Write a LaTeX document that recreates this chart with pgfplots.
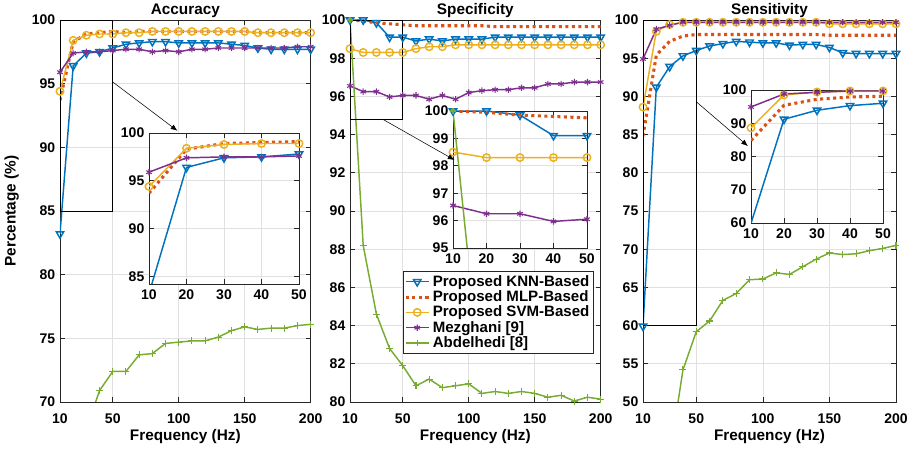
\documentclass[border=0pt]{standalone}
\usepackage{fontspec}
\setmainfont{Liberation Sans}
\usepackage{pgfplots}
\usepackage{pgfplotstable}
\pgfplotsset{compat=1.18}
\usetikzlibrary{arrows.meta}

\definecolor{mblue}{rgb}{0,0.447,0.741}
\definecolor{morange}{rgb}{0.85,0.325,0.098}
\definecolor{myellow}{rgb}{0.929,0.694,0.125}
\definecolor{mpurple}{rgb}{0.494,0.184,0.556}
\definecolor{mgreen}{rgb}{0.466,0.674,0.188}

% x knn mlp svm mez abd
\pgfplotstableread{
x   knn    mlp    svm    mez    abd
10  83.2   93.7   94.4   95.9   50.0
20  96.4   98.3   98.4   97.4   60.0
30  97.4   98.9   98.8   97.5   67.9
40  97.5   99.0   98.9   97.5   70.9
50  97.8   99.1   98.9   97.6   72.4
60  98.1   99.0   99.0   97.7   72.4
70  98.2   99.1   99.0   97.7   73.7
80  98.3   99.1   99.1   97.5   73.8
90  98.3   99.1   99.1   97.6   74.6
100 98.2   99.1   99.1   97.5   74.7
110 98.2   99.1   99.1   97.7   74.8
120 98.2   99.1   99.1   97.7   74.8
130 98.2   99.1   99.1   97.8   75.1
140 98.1   99.1   99.1   97.8   75.6
150 98.0   99.1   99.1   97.8   75.9
160 97.8   99.0   99.0   97.8   75.7
170 97.7   99.0   99.0   97.8   75.8
180 97.7   99.0   99.0   97.8   75.8
190 97.7   99.0   99.0   97.9   76.0
200 97.7   99.0   99.0   97.9   76.1
}\acc

\pgfplotstableread{
x   knn    mlp    svm    mez    abd
10  100.0  100.0  98.5   96.55  100.0
20  100.0  99.95  98.3   96.25  88.2
30  99.85  99.85  98.3   96.25  84.6
40  99.1   99.8   98.3   95.97  82.8
50  99.1   99.75  98.3   96.05  81.9
60  98.9   99.7   98.5   96.05  80.85
70  99.0   99.7   98.6   95.85  81.2
80  98.9   99.7   98.6   96.05  80.75
90  99.0   99.7   98.7   95.85  80.85
100 99.0   99.7   98.7   96.2   80.95
110 99.0   99.7   98.7   96.3   80.45
120 99.1   99.65  98.7   96.35  80.55
130 99.1   99.65  98.7   96.35  80.45
140 99.1   99.65  98.7   96.45  80.55
150 99.1   99.65  98.7   96.45  80.45
160 99.1   99.65  98.7   96.65  80.25
170 99.1   99.65  98.7   96.65  80.35
180 99.1   99.65  98.7   96.75  80.05
190 99.1   99.65  98.7   96.75  80.25
200 99.1   99.65  98.7   96.75  80.15
}\spe

\pgfplotstableread{
x   knn    mlp    svm    mez    abd
10  59.9   84.8   88.6   94.9   20.0
20  91.2   95.4   98.5   98.8   32.0
30  93.9   97.2   99.4   99.3   42.8
40  95.3   97.9   99.7   99.7   54.2
50  96.0   98.1   99.7   99.7   59.2
60  96.6   98.1   99.7   99.7   60.6
70  96.9   98.1   99.7   99.7   63.3
80  97.2   98.1   99.7   99.7   64.2
90  97.1   98.1   99.7   99.7   66.0
100 97.0   98.1   99.7   99.7   66.1
110 97.0   98.1   99.7   99.7   66.9
120 96.7   98.1   99.7   99.7   66.7
130 96.8   98.1   99.7   99.7   67.7
140 96.8   98.1   99.7   99.7   68.7
150 96.4   98.0   99.5   99.7   69.5
160 95.7   98.0   99.5   99.7   69.3
170 95.6   98.0   99.5   99.7   69.4
180 95.6   98.0   99.5   99.7   69.8
190 95.6   98.0   99.5   99.7   70.1
200 95.6   98.0   99.5   99.7   70.5
}\sen

\pgfplotsset{
  knn/.style={mblue, line width=1.1pt, mark=triangle, mark size=3.2pt, mark options={rotate=180, solid}},
  mlp/.style={morange, line width=2.3pt, dash pattern=on 2.3pt off 2.6pt},
  svm/.style={myellow, line width=1.1pt, mark=o, mark size=2.8pt, mark options={solid}},
  mez/.style={mpurple, line width=1.1pt, mark=asterisk, mark size=2.4pt, mark options={solid, line width=0.8pt}},
  abd/.style={mgreen, line width=1.1pt, mark=+, mark size=2.6pt, mark options={solid, line width=0.8pt}},
  base/.style={
    scale only axis, anchor=south west,
    grid=major, major grid style={black!12, line width=0.5pt},
    axis line style={black!85, line width=0.5pt},
    tick style={black!85, line width=0.5pt}, major tick length=3.5pt,
    tick label style={font=\bfseries\fontsize{10.5}{12}\selectfont},
    /pgf/number format/assume math mode=true,
    title style={font=\bfseries\fontsize{11.5}{13}\selectfont, anchor=base, yshift=-2pt},
    label style={font=\bfseries\fontsize{11.5}{13}\selectfont},
  },
  mainax/.style={base, xmin=10, xmax=200, xtick={10,50,100,150,200},
    width=188pt, height=286.5pt, xlabel={Frequency (Hz)},
    xticklabel style={yshift=-5pt},
    xlabel style={yshift=2pt}},
  inset/.style={base, xmin=10, xmax=50, xtick={10,20,30,40,50},
    xticklabel style={yshift=-1pt},
    axis background/.style={fill=white}, restrict x to domain=10:50},
}

\begin{document}
\begin{tikzpicture}
\path[use as bounding box] (0,0) rectangle (691.5pt,336.75pt);

% Accuracy
\begin{axis}[mainax, at={(45pt,35.25pt)}, ymin=70, ymax=100,
  ytick={70,75,...,100}, title={Accuracy}, ylabel={Percentage (\%)},
  ylabel style={yshift=3pt}]
\addplot[knn] table[x=x,y=knn] {\acc};
\addplot[mlp] table[x=x,y=mlp] {\acc};
\addplot[svm] table[x=x,y=svm] {\acc};
\addplot[mez] table[x=x,y=mez] {\acc};
\addplot[abd] table[x=x,y=abd] {\acc};
\draw[black, line width=0.6pt] (axis cs:10,85) rectangle (axis cs:50,100);
\coordinate (a1s) at (axis cs:50,95.13);
\coordinate (a1e) at (axis cs:99,91.3);
\end{axis}

% Specificity
\begin{axis}[mainax, at={(262.5pt,35.25pt)}, ymin=80, ymax=100,
  ytick={80,82,...,100}, title={Specificity},
  legend cell align=left,
  legend style={at={(0.21,0.343)}, anchor=north west, draw=black!85,
    line width=0.5pt, font=\bfseries\fontsize{11.3}{12}\selectfont,
    inner sep=1pt, row sep=-2.2pt, cells={anchor=west}}]
\addplot[knn] table[x=x,y=knn] {\spe};
\addlegendentry{Proposed KNN-Based}
\addplot[mlp] table[x=x,y=mlp] {\spe};
\addlegendentry{Proposed MLP-Based}
\addplot[svm] table[x=x,y=svm] {\spe};
\addlegendentry{Proposed SVM-Based}
\addplot[mez] table[x=x,y=mez] {\spe};
\addlegendentry{Mezghani [9]}
\addplot[abd] table[x=x,y=abd] {\spe};
\addlegendentry{Abdelhedi [8]}
\draw[black, line width=0.6pt] (axis cs:10,94.8) rectangle (axis cs:50,100);
\coordinate (a2s) at (axis cs:34.9,94.8);
\coordinate (a2e) at (axis cs:89.2,92.67);
\end{axis}

% Sensitivity
\begin{axis}[mainax, at={(482.25pt,35.25pt)}, width=189.75pt, ymin=50, ymax=100,
  ytick={50,55,...,100}, title={Sensitivity}]
\addplot[knn] table[x=x,y=knn] {\sen};
\addplot[mlp] table[x=x,y=mlp] {\sen};
\addplot[svm] table[x=x,y=svm] {\sen};
\addplot[mez] table[x=x,y=mez] {\sen};
\addplot[abd] table[x=x,y=abd] {\sen};
\draw[black, line width=0.6pt] (axis cs:10,60) rectangle (axis cs:50,100);
\coordinate (a3s) at (axis cs:50,89.3);
\coordinate (a3e) at (axis cs:88.8,83.5);
\end{axis}

% insets
\begin{axis}[inset, at={(111.75pt,123.75pt)}, width=112.5pt, height=113.25pt,
  ymin=84.2, ymax=100, ytick={85,90,95,100}]
\addplot[knn] table[x=x,y=knn] {\acc};
\addplot[mlp] table[x=x,y=mlp] {\acc};
\addplot[svm] table[x=x,y=svm] {\acc};
\addplot[mez] table[x=x,y=mez] {\acc};
\addplot[abd] table[x=x,y=abd] {\acc};
\end{axis}

\begin{axis}[inset, at={(339.75pt,150.75pt)}, width=100.5pt, height=102.75pt,
  ymin=95, ymax=100, ytick={95,96,...,100}]
\addplot[knn] table[x=x,y=knn] {\spe};
\addplot[mlp] table[x=x,y=mlp] {\spe};
\addplot[svm] table[x=x,y=svm] {\spe};
\addplot[mez] table[x=x,y=mez] {\spe};
\addplot[abd] table[x=x,y=abd] {\spe};
\end{axis}

\begin{axis}[inset, at={(563.25pt,169.5pt)}, width=99pt, height=99.75pt,
  ymin=60, ymax=100, ytick={60,70,...,100}]
\addplot[knn] table[x=x,y=knn] {\sen};
\addplot[mlp] table[x=x,y=mlp] {\sen};
\addplot[svm] table[x=x,y=svm] {\sen};
\addplot[mez] table[x=x,y=mez] {\sen};
\addplot[abd] table[x=x,y=abd] {\sen};
\end{axis}

\draw[-{Latex[length=5pt,width=4pt]}, line width=0.4pt] (a1s) -- (a1e);
\draw[-{Latex[length=5pt,width=4pt]}, line width=0.4pt] (a2s) -- (a2e);
\draw[-{Latex[length=5pt,width=4pt]}, line width=0.4pt] (a3s) -- (a3e);
\end{tikzpicture}
\end{document}
